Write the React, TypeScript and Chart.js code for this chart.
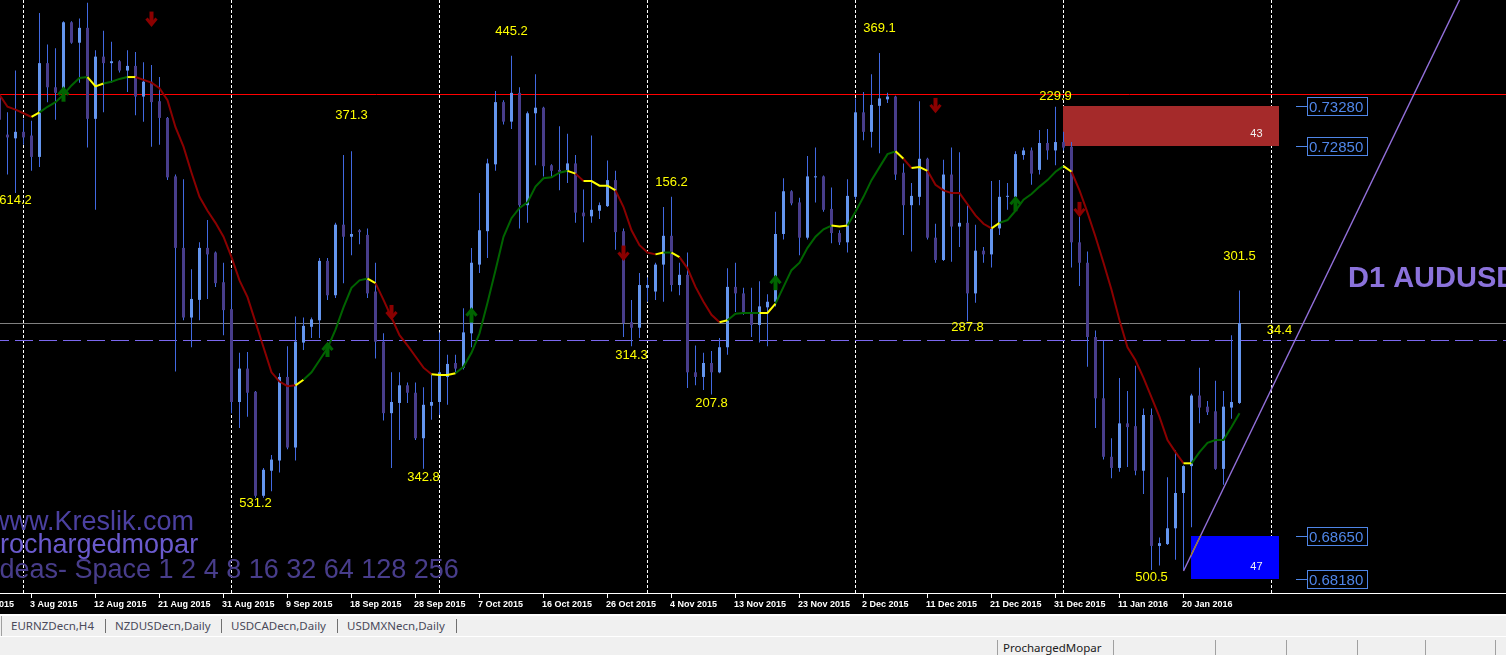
import React, { useEffect, useRef } from 'react';
import { Chart, registerables } from 'chart.js';

Chart.register(...registerables);

// ---------- DATA (D1 AUDUSD, one bar per trading day incl. Sunday bars) ----------
const openPrices = [
  0.7340, 0.7297, 0.7293, 0.7300, 0.7296, 0.7273, 0.7374, 0.7348, 0.7338, 0.7418,
  0.7396, 0.7412, 0.7314, 0.7381, 0.7374, 0.7376, 0.7366, 0.7371, 0.7338, 0.7354,
  0.7333, 0.7315, 0.7252, 0.7175, 0.7100, 0.7119, 0.7175, 0.7170, 0.7138, 0.7109,
  0.7009, 0.7045, 0.7020, 0.6908, 0.6935, 0.6946, 0.7036, 0.6960, 0.7073, 0.7090,
  0.7097, 0.7161, 0.7124, 0.7200, 0.7187, 0.7194, 0.7189, 0.7128, 0.7074, 0.6997,
  0.7008, 0.7027, 0.7019, 0.6970, 0.7005, 0.7009, 0.7036, 0.7051, 0.7046, 0.7083,
  0.7157, 0.7193, 0.7265, 0.7332, 0.7311, 0.7342, 0.7221, 0.7320, 0.7326, 0.7264,
  0.7259, 0.7258, 0.7266, 0.7213, 0.7209, 0.7215, 0.7220, 0.7248, 0.7193, 0.7095,
  0.7089, 0.7132, 0.7128, 0.7157, 0.7188, 0.7135, 0.7146, 0.7041, 0.7036, 0.7051,
  0.7041, 0.7068, 0.7133, 0.7126, 0.7106, 0.7092, 0.7111, 0.7117, 0.7190, 0.7236,
  0.7224, 0.7186, 0.7251, 0.7252, 0.7217, 0.7191, 0.7181, 0.7230, 0.7321, 0.7300,
  0.7328, 0.7335, 0.7338, 0.7256, 0.7221, 0.7230, 0.7271, 0.7186, 0.7162, 0.7254,
  0.7198, 0.7202, 0.7126, 0.7172, 0.7168, 0.7196, 0.7230, 0.7230, 0.7275, 0.7280,
  0.7259, 0.7288, 0.7280, 0.7289, 0.7284, 0.7181, 0.7159, 0.7079, 0.7013, 0.6950,
  0.6938, 0.6986, 0.6983, 0.6935, 0.6995, 0.6854, 0.6856, 0.6873, 0.6911, 0.6940,
  0.7016, 0.7004, 0.6999, 0.6937, 0.7003, 0.7008,
];

const highPrices = [
  0.7348, 0.7321, 0.7366, 0.7314, 0.7312, 0.7428, 0.7394, 0.7390, 0.7419, 0.7419,
  0.7422, 0.7439, 0.7388, 0.7409, 0.7397, 0.7377, 0.7388, 0.7386, 0.7375, 0.7372,
  0.7359, 0.7316, 0.7254, 0.7249, 0.7152, 0.7181, 0.7205, 0.7171, 0.7159, 0.7152,
  0.7062, 0.7063, 0.7021, 0.6938, 0.6952, 0.7040, 0.7069, 0.7101, 0.7100, 0.7100,
  0.7164, 0.7164, 0.7202, 0.7275, 0.7279, 0.7195, 0.7196, 0.7159, 0.7083, 0.7041,
  0.7041, 0.7030, 0.7030, 0.7025, 0.7038, 0.7084, 0.7060, 0.7060, 0.7110, 0.7175,
  0.7234, 0.7271, 0.7344, 0.7334, 0.7382, 0.7348, 0.7322, 0.7362, 0.7327, 0.7265,
  0.7306, 0.7298, 0.7275, 0.7238, 0.7296, 0.7224, 0.7269, 0.7258, 0.7196, 0.7119,
  0.7148, 0.7143, 0.7159, 0.7219, 0.7230, 0.7159, 0.7170, 0.7070, 0.7062, 0.7064,
  0.7078, 0.7153, 0.7159, 0.7132, 0.7132, 0.7139, 0.7125, 0.7214, 0.7250, 0.7237,
  0.7229, 0.7274, 0.7283, 0.7253, 0.7240, 0.7194, 0.7249, 0.7336, 0.7343, 0.7362,
  0.7385, 0.7342, 0.7339, 0.7266, 0.7245, 0.7333, 0.7272, 0.7201, 0.7270, 0.7283,
  0.7278, 0.7221, 0.7200, 0.7176, 0.7247, 0.7248, 0.7245, 0.7279, 0.7283, 0.7283,
  0.7302, 0.7303, 0.7327, 0.7300, 0.7289, 0.7221, 0.7171, 0.7086, 0.7075, 0.6970,
  0.7035, 0.7021, 0.7048, 0.7002, 0.7002, 0.6863, 0.6928, 0.6957, 0.6941, 0.7018,
  0.7046, 0.7010, 0.7032, 0.7021, 0.7081, 0.7129,
];

const lowPrices = [
  0.7294, 0.7254, 0.7234, 0.7286, 0.7258, 0.7262, 0.7332, 0.7313, 0.7334, 0.7395,
  0.7353, 0.7283, 0.7216, 0.7321, 0.7353, 0.7364, 0.7343, 0.7318, 0.7311, 0.7284,
  0.7286, 0.7248, 0.7042, 0.7097, 0.7068, 0.7097, 0.7120, 0.7133, 0.7081, 0.6997,
  0.6981, 0.6993, 0.6906, 0.6906, 0.6913, 0.6933, 0.6958, 0.6946, 0.7065, 0.7078,
  0.7078, 0.7119, 0.7121, 0.7137, 0.7167, 0.7179, 0.7121, 0.7056, 0.6989, 0.6938,
  0.6968, 0.7008, 0.6968, 0.6937, 0.6990, 0.6995, 0.7006, 0.7040, 0.7044, 0.7068,
  0.7148, 0.7164, 0.7258, 0.7308, 0.7303, 0.7196, 0.7202, 0.7264, 0.7252, 0.7251,
  0.7237, 0.7245, 0.7202, 0.7181, 0.7202, 0.7206, 0.7219, 0.7173, 0.7079, 0.7069,
  0.7078, 0.7117, 0.7119, 0.7117, 0.7128, 0.7124, 0.7024, 0.7027, 0.7022, 0.7017,
  0.7040, 0.7060, 0.7106, 0.7103, 0.7079, 0.7073, 0.7069, 0.7112, 0.7184, 0.7221,
  0.7167, 0.7184, 0.7224, 0.7214, 0.7180, 0.7178, 0.7170, 0.7227, 0.7291, 0.7283,
  0.7277, 0.7331, 0.7248, 0.7189, 0.7171, 0.7221, 0.7184, 0.7159, 0.7161, 0.7160,
  0.7176, 0.7096, 0.7116, 0.7159, 0.7154, 0.7189, 0.7216, 0.7227, 0.7270, 0.7243,
  0.7254, 0.7270, 0.7264, 0.7280, 0.7154, 0.7134, 0.7047, 0.6981, 0.6947, 0.6927,
  0.6934, 0.6939, 0.6930, 0.6910, 0.6828, 0.6833, 0.6855, 0.6839, 0.6828, 0.6874,
  0.6986, 0.6995, 0.6936, 0.6920, 0.6991, 0.7007,
];

const closePrices = [
  0.7313, 0.7294, 0.7300, 0.7294, 0.7273, 0.7374, 0.7348, 0.7342, 0.7418, 0.7396,
  0.7412, 0.7314, 0.7381, 0.7374, 0.7376, 0.7366, 0.7371, 0.7338, 0.7354, 0.7332,
  0.7315, 0.7251, 0.7175, 0.7100, 0.7120, 0.7175, 0.7168, 0.7137, 0.7108, 0.7009,
  0.7045, 0.7019, 0.6908, 0.6936, 0.6947, 0.7036, 0.6960, 0.7074, 0.7091, 0.7098,
  0.7161, 0.7124, 0.7200, 0.7187, 0.7190, 0.7192, 0.7126, 0.7074, 0.6997, 0.7009,
  0.7027, 0.7019, 0.6970, 0.7006, 0.7009, 0.7041, 0.7050, 0.7045, 0.7084, 0.7159,
  0.7194, 0.7266, 0.7332, 0.7311, 0.7342, 0.7221, 0.7320, 0.7326, 0.7263, 0.7258,
  0.7257, 0.7266, 0.7213, 0.7209, 0.7216, 0.7221, 0.7248, 0.7192, 0.7094, 0.7089,
  0.7135, 0.7135, 0.7157, 0.7188, 0.7135, 0.7146, 0.7041, 0.7036, 0.7051, 0.7041,
  0.7068, 0.7133, 0.7126, 0.7106, 0.7092, 0.7112, 0.7117, 0.7190, 0.7236, 0.7223,
  0.7186, 0.7252, 0.7252, 0.7216, 0.7191, 0.7181, 0.7231, 0.7321, 0.7300, 0.7329,
  0.7336, 0.7338, 0.7254, 0.7221, 0.7231, 0.7271, 0.7186, 0.7162, 0.7254, 0.7198,
  0.7202, 0.7126, 0.7172, 0.7168, 0.7196, 0.7230, 0.7231, 0.7276, 0.7280, 0.7255,
  0.7288, 0.7280, 0.7289, 0.7283, 0.7181, 0.7159, 0.7079, 0.7013, 0.6950, 0.6938,
  0.6986, 0.6982, 0.6935, 0.6995, 0.6854, 0.6857, 0.6873, 0.6911, 0.6940, 0.7016,
  0.7003, 0.6998, 0.6937, 0.7004, 0.7009, 0.7094,
];

// smoothed moving average and its state per bar (r = falling, g = rising, y = flat)
const maValues = [
  0.7340, 0.7327, 0.7324, 0.7320, 0.7316, 0.7321, 0.7327, 0.7332, 0.7340, 0.7350,
  0.7358, 0.7359, 0.7349, 0.7352, 0.7354, 0.7357, 0.7359, 0.7359, 0.7356, 0.7353,
  0.7347, 0.7334, 0.7305, 0.7284, 0.7256, 0.7230, 0.7215, 0.7202, 0.7187, 0.7165,
  0.7140, 0.7122, 0.7095, 0.7068, 0.7041, 0.7031, 0.7026, 0.7027, 0.7033, 0.7041,
  0.7054, 0.7067, 0.7087, 0.7111, 0.7132, 0.7140, 0.7142, 0.7137, 0.7119, 0.7100,
  0.7081, 0.7070, 0.7058, 0.7046, 0.7039, 0.7038, 0.7038, 0.7040, 0.7047, 0.7062,
  0.7083, 0.7116, 0.7151, 0.7187, 0.7207, 0.7218, 0.7224, 0.7241, 0.7250, 0.7251,
  0.7256, 0.7258, 0.7255, 0.7247, 0.7247, 0.7242, 0.7242, 0.7237, 0.7219, 0.7194,
  0.7178, 0.7170, 0.7168, 0.7170, 0.7170, 0.7165, 0.7153, 0.7133, 0.7117, 0.7103,
  0.7095, 0.7097, 0.7104, 0.7105, 0.7105, 0.7105, 0.7105, 0.7115, 0.7133, 0.7151,
  0.7159, 0.7175, 0.7187, 0.7195, 0.7199, 0.7198, 0.7199, 0.7214, 0.7230, 0.7248,
  0.7262, 0.7276, 0.7279, 0.7271, 0.7261, 0.7262, 0.7258, 0.7243, 0.7237, 0.7234,
  0.7234, 0.7222, 0.7210, 0.7201, 0.7196, 0.7202, 0.7205, 0.7215, 0.7227, 0.7233,
  0.7241, 0.7248, 0.7257, 0.7263, 0.7257, 0.7237, 0.7213, 0.7187, 0.7159, 0.7130,
  0.7097, 0.7068, 0.7054, 0.7035, 0.7014, 0.6993, 0.6968, 0.6955, 0.6943, 0.6943,
  0.6955, 0.6965, 0.6968, 0.6968, 0.6982, 0.6997,
];
const maTrend = (
  'rrrrry' + 'gggggg' + 'yy' + 'ggg' + 'y' + 'rrrrrrrrrrrrrrrrrrrr' + 'y' + 'gggggggg' + 'y' +
  'rrrrrrr' + 'yyy' + 'gggggggggggggg' + 'y' + 'r' + 'yyyy' + 'rrrrr' + 'y' + 'g' + 'y' + 'rrrrr' +
  'y' + 'gggg' + 'yy' + 'ggggggg' + 'yy' + 'gggggg' + 'y' + 'r' + 'yy' + 'rrrrrrrr' + 'y' +
  'gggggggg' + 'y' + 'rrrrrrrrrrrrrr' + 'y' + 'gggggg'
).split('');

// date axis
const dateTickIdx = [-4, 4, 12, 20, 28, 36, 44, 52, 60, 68, 76, 84, 92, 100, 108, 116, 124, 132, 140, 148];
const dateTickLabels = [
  '24 Jul 2015', '3 Aug 2015', '12 Aug 2015', '21 Aug 2015', '31 Aug 2015', '9 Sep 2015',
  '18 Sep 2015', '28 Sep 2015', '7 Oct 2015', '16 Oct 2015', '26 Oct 2015', '4 Nov 2015',
  '13 Nov 2015', '23 Nov 2015', '2 Dec 2015', '11 Dec 2015', '21 Dec 2015', '31 Dec 2015',
  '11 Jan 2016', '20 Jan 2016',
];
const separatorIdx = [3, 29, 55, 81, 107, 133, 159];

// signal arrows
const downArrowIdx = [19, 49, 78, 117, 135];
const downArrowPrice = [0.7422, 0.7106, 0.7170, 0.7329, 0.7217];
const upArrowIdx = [8, 41, 59, 97, 127];
const upArrowPrice = [0.7340, 0.7065, 0.7102, 0.7137, 0.7222];

// swing labels
const swingIdx = [2, 64, 44, 110, 84, 132, 155, 121, 79, 89, 32, 53, 144, 160];
const swingPrice = [0.7226, 0.7408, 0.7318, 0.7411, 0.7246, 0.7338, 0.7166, 0.7089, 0.7059, 0.7007, 0.6900, 0.6928, 0.6820, 0.7086];
const swingText = ['614.2', '445.2', '371.3', '369.1', '156.2', '229.9', '301.5', '287.8', '314.3', '207.8', '531.2', '342.8', '500.5', '34.4'];

// horizontal levels
const resistanceLine = 0.7341;
const bidLine = 0.7094;
const pivotLine = 0.7076;

// zones
const zoneStart = [133, 149];
const zoneEnd = [160, 160];
const zoneHigh = [0.7328, 0.6865];
const zoneLow = [0.7285, 0.6818];
const zoneCount = ['43', '47'];

// trend line (two anchor points: bar index, price)
const trendIdx = [148, 182.5];
const trendPrice = [0.6827, 0.7442];

const watermarkLines = ['www.Kreslik.com', 'Prochargedmopar', 'Ideas- Space 1 2 4 8 16 32 64 128 256'];
const chartTitle = 'D1 AUDUSD';
const tabNames = ['EURNZDecn,H4', 'NZDUSDecn,Daily', 'USDCADecn,Daily', 'USDMXNecn,Daily'];

// ---------- STYLE ----------
const BULL = '#6495ED';
const BEAR = '#483D8B';
const WICK = '#4169E1';
const FONT = "'Liberation Sans', Arial, sans-serif";
const trendColor = (c: string) => (c === 'g' ? '#006400' : c === 'y' ? '#FFFF00' : '#8B0000');

function drawArrow(ctx: CanvasRenderingContext2D, cx: number, cy: number, up: boolean, color: string) {
  ctx.save();
  ctx.translate(cx, cy);
  if (!up) ctx.scale(1, -1);
  ctx.fillStyle = color;
  ctx.strokeStyle = color;
  ctx.lineWidth = 3;
  ctx.lineJoin = 'miter';
  ctx.fillRect(-2, -4, 4, 11);
  ctx.beginPath();
  ctx.moveTo(-5, 0);
  ctx.lineTo(0, -6);
  ctx.lineTo(5, 0);
  ctx.stroke();
  ctx.restore();
}

const mt4Plugin = {
  id: 'mt4objects',
  beforeDatasetsDraw(chart: any) {
    const { ctx, chartArea: a, scales } = chart;
    const x = scales.x;
    const y = scales.y;
    ctx.save();
    ctx.beginPath();
    ctx.rect(a.left, a.top, a.right - a.left, a.bottom - a.top);
    ctx.clip();

    // period separators
    ctx.strokeStyle = '#FFFFFF';
    ctx.lineWidth = 1;
    ctx.setLineDash([3, 2]);
    for (const i of separatorIdx) {
      const px = x.getPixelForValue(i);
      ctx.beginPath();
      ctx.moveTo(px, a.top);
      ctx.lineTo(px, a.bottom);
      ctx.stroke();
    }
    ctx.setLineDash([]);

    // zones
    const zoneFill = ['#A52A2A', '#0000FF'];
    for (let k = 0; k < zoneStart.length; k++) {
      const x1 = x.getPixelForValue(zoneStart[k]) - 0.5;
      const x2 = x.getPixelForValue(zoneEnd[k]) - 0.5;
      const y1 = Math.round(y.getPixelForValue(zoneHigh[k]));
      const y2 = Math.round(y.getPixelForValue(zoneLow[k]));
      ctx.fillStyle = zoneFill[k];
      ctx.fillRect(x1, y1, x2 - x1, y2 - y1);
    }

    // horizontal levels
    const hl = (p: number, color: string, dash: number[], off: number) => {
      const py = Math.round(y.getPixelForValue(p)) + 0.5;
      ctx.strokeStyle = color;
      ctx.setLineDash(dash);
      ctx.lineDashOffset = off;
      ctx.beginPath();
      ctx.moveTo(a.left, py);
      ctx.lineTo(a.right, py);
      ctx.stroke();
    };
    hl(bidLine, '#808080', [], 0);
    hl(pivotLine, '#7B68EE', [18, 6], 9);
    hl(resistanceLine, '#FF0000', [], 0);
    ctx.setLineDash([]);
    ctx.restore();
  },
  afterDatasetsDraw(chart: any) {
    const { ctx, chartArea: a, scales } = chart;
    const x = scales.x;
    const y = scales.y;
    ctx.save();
    ctx.beginPath();
    ctx.rect(a.left, a.top, a.right - a.left, a.bottom - a.top);
    ctx.clip();

    // trend line (ray)
    const tx1 = x.getPixelForValue(trendIdx[0]);
    const ty1 = y.getPixelForValue(trendPrice[0]);
    const tx2 = x.getPixelForValue(trendIdx[1]);
    const ty2 = y.getPixelForValue(trendPrice[1]);
    const ex = tx1 + (tx2 - tx1) * 1.5;
    const ey = ty1 + (ty2 - ty1) * 1.5;
    ctx.strokeStyle = '#9370DB';
    ctx.lineWidth = 1.4;
    ctx.beginPath();
    ctx.moveTo(tx1, ty1);
    ctx.lineTo(ex, ey);
    ctx.stroke();
    // part over the blue zone appears brownish (XOR drawing)
    {
      const x1 = x.getPixelForValue(zoneStart[1]) - 0.5;
      const x2 = x.getPixelForValue(zoneEnd[1]) - 0.5;
      const y1 = y.getPixelForValue(zoneHigh[1]);
      const y2 = y.getPixelForValue(zoneLow[1]);
      ctx.save();
      ctx.beginPath();
      ctx.rect(x1, y1, x2 - x1, y2 - y1);
      ctx.clip();
      ctx.strokeStyle = '#9A7A34';
      ctx.beginPath();
      ctx.moveTo(tx1, ty1);
      ctx.lineTo(ex, ey);
      ctx.stroke();
      ctx.restore();
    }

    // arrows
    downArrowIdx.forEach((i, k) => drawArrow(ctx, x.getPixelForValue(i), y.getPixelForValue(downArrowPrice[k]), false, '#8B0000'));
    upArrowIdx.forEach((i, k) => drawArrow(ctx, x.getPixelForValue(i), y.getPixelForValue(upArrowPrice[k]), true, '#006400'));

    // swing labels
    ctx.font = `13px ${FONT}`;
    ctx.fillStyle = '#FFFF00';
    ctx.textAlign = 'center';
    ctx.textBaseline = 'middle';
    swingIdx.forEach((i, k) => {
      ctx.fillText(swingText[k], x.getPixelForValue(i), y.getPixelForValue(swingPrice[k]));
    });

    // zone counts
    ctx.font = `11px ${FONT}`;
    ctx.fillStyle = '#F2F2F2';
    ctx.textAlign = 'right';
    ctx.textBaseline = 'alphabetic';
    for (let k = 0; k < zoneStart.length; k++) {
      const xr = x.getPixelForValue(zoneEnd[k]) - 17;
      const yb = y.getPixelForValue(zoneLow[k]) - 9;
      ctx.fillText(zoneCount[k], xr, yb);
    }

    // price boxes for zone edges
    ctx.font = `15px ${FONT}`;
    ctx.textAlign = 'left';
    ctx.textBaseline = 'middle';
    const levels = [zoneHigh[0], zoneLow[0], zoneHigh[1], zoneLow[1]];
    const xr = x.getPixelForValue(zoneEnd[0]) - 0.5;
    for (const p of levels) {
      const py = Math.round(y.getPixelForValue(p)) + 0.5;
      ctx.strokeStyle = '#4F86E8';
      ctx.lineWidth = 1;
      ctx.beginPath();
      ctx.moveTo(xr + 17, py);
      ctx.lineTo(xr + 28, py);
      ctx.stroke();
      ctx.strokeRect(xr + 28.5, py - 9, 60, 18);
      ctx.fillStyle = '#4F86E8';
      ctx.fillText(p.toFixed(5), xr + 30, py + 1);
    }

    // title
    ctx.font = `bold 29px ${FONT}`;
    ctx.fillStyle = '#8B72DB';
    ctx.textAlign = 'left';
    ctx.textBaseline = 'alphabetic';
    ctx.fillText(chartTitle, 1348, 287);

    // watermark
    ctx.font = `27px ${FONT}`;
    const wmColors = ['#4B40A0', '#6A5ACD', '#483D8B'];
    const wmX = [-10, -18, -8];
    const wmY = [530, 553, 578];
    watermarkLines.forEach((t, k) => {
      ctx.fillStyle = wmColors[k];
      ctx.fillText(t, wmX[k], wmY[k]);
    });
    ctx.restore();

    // date axis
    ctx.save();
    ctx.fillStyle = '#FFFFFF';
    ctx.fillRect(0, a.bottom, chart.width, 1);
    ctx.font = `bold 9px ${FONT}`;
    ctx.textAlign = 'left';
    ctx.textBaseline = 'alphabetic';
    dateTickIdx.forEach((i, k) => {
      const col = Math.round(x.getPixelForValue(i) - 0.5);
      ctx.fillRect(col, a.bottom + 1, 1, 4);
      ctx.fillText(dateTickLabels[k], col - 1, a.bottom + 14);
    });
    ctx.restore();
  },
};

export default function App() {
  const canvasRef = useRef<HTMLCanvasElement>(null);

  useEffect(() => {
    document.body.style.margin = '0';
    const idx = openPrices.map((_, i) => i);
    const chart = new Chart(canvasRef.current as HTMLCanvasElement, {
      type: 'bar',
      data: {
        datasets: [
          {
            type: 'line',
            data: idx.map((i) => ({ x: i, y: maValues[i] })),
            borderColor: '#8B0000',
            borderWidth: 2,
            pointRadius: 0,
            tension: 0,
            order: 0,
            segment: { borderColor: (c: any) => trendColor(maTrend[c.p1DataIndex]) },
          } as any,
          {
            type: 'bar',
            data: idx.map((i) => ({ x: i, y: [openPrices[i], closePrices[i]] })),
            backgroundColor: (c: any) =>
              closePrices[c.dataIndex] >= openPrices[c.dataIndex] ? BULL : BEAR,
            barThickness: 3,
            grouped: false,
            minBarLength: 1,
            inflateAmount: 0,
            borderWidth: 0,
            order: 1,
          } as any,
          {
            type: 'bar',
            data: idx.map((i) => ({ x: i, y: [lowPrices[i], highPrices[i]] })),
            backgroundColor: WICK,
            barThickness: 1,
            grouped: false,
            inflateAmount: 0,
            borderWidth: 0,
            order: 2,
          } as any,
        ],
      },
      options: {
        responsive: false,
        maintainAspectRatio: false,
        animation: false,
        events: [],
        layout: { padding: { left: 0, right: 0, top: 0, bottom: 19 } },
        plugins: { legend: { display: false }, tooltip: { enabled: false } },
        scales: {
          x: { type: 'linear', display: false, min: 0.0625, max: 188.3125, offset: false, bounds: 'data' },
          y: { type: 'linear', display: false, min: 0.68033, max: 0.7442, bounds: 'data' },
        },
      } as any,
      plugins: [mt4Plugin],
    });
    return () => chart.destroy();
  }, []);

  const tabX = [11, 115, 231, 347];
  const tabSep = [105, 221, 337, 456];
  const statusSep = [997, 1113, 1215, 1286, 1357, 1425, 1495];

  return (
    <div
      style={{
        position: 'relative',
        width: 1506,
        height: 655,
        background: '#F0F0F0',
        overflow: 'hidden',
        fontFamily: "'Noto Sans', 'Liberation Sans', Arial, sans-serif",
      }}
    >
      <div style={{ position: 'absolute', left: 0, top: 0, width: 1506, height: 614, background: '#000' }}>
        <canvas ref={canvasRef} width={1506} height={612} style={{ display: 'block' }} />
      </div>
      <div style={{ position: 'absolute', left: 0, top: 614, width: 1506, height: 2, background: '#FFFFFF' }} />
      <div style={{ position: 'absolute', left: 1, top: 616, width: 1, height: 20, background: '#A0A0A0' }} />
      {tabNames.map((t, k) => (
        <div
          key={t}
          style={{
            position: 'absolute',
            left: tabX[k],
            top: 618,
            fontSize: 11.5,
            lineHeight: '16px',
            color: '#4A4A5A',
            whiteSpace: 'nowrap',
          }}
        >
          {t}
        </div>
      ))}
      {tabSep.map((sx) => (
        <div key={sx} style={{ position: 'absolute', left: sx, top: 619, width: 1, height: 14, background: '#707070' }} />
      ))}
      <div style={{ position: 'absolute', left: 0, top: 636, width: 1506, height: 1, background: '#FFFFFF' }} />
      {statusSep.map((sx) => (
        <div key={sx} style={{ position: 'absolute', left: sx, top: 640, width: 1, height: 15, background: '#A0A0A0' }} />
      ))}
      <div
        style={{
          position: 'absolute',
          left: 1003,
          top: 640,
          fontSize: 11.5,
          lineHeight: '16px',
          color: '#202020',
          whiteSpace: 'nowrap',
        }}
      >
        ProchargedMopar
      </div>
    </div>
  );
}
